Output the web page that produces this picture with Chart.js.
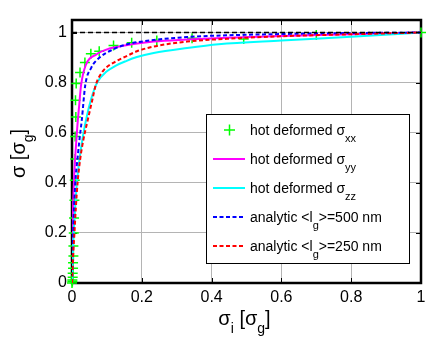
<!DOCTYPE html>
<html>
<head>
<meta charset="utf-8">
<script src="https://cdn.jsdelivr.net/npm/chart.js@4"></script>
<style>
  html, body { margin: 0; padding: 0; background: #fff; }
  #wrap { width: 435px; height: 348px; }
</style>
</head>
<body>
<div id="wrap"><canvas id="chart" width="435" height="348"></canvas></div>
<script>
// hot deformed sigma_xx (markers)
const xxX = [0, 0.001, 0.001, 0.002, 0.002, 0.003, 0.003, 0.004, 0.004, 0.005, 0.006, 0.007, 0.008, 0.009, 0.009, 0.011, 0.010, 0.012, 0.023, 0.037, 0.054, 0.078, 0.119, 0.171, 0.243, 0.344, 0.492, 0.70, 1];
const xxY = [0, 0.006, 0.012, 0.023, 0.039, 0.059, 0.081, 0.108, 0.148, 0.20, 0.26, 0.33, 0.41, 0.495, 0.585, 0.663, 0.73, 0.796, 0.84, 0.88, 0.915, 0.925, 0.948, 0.959, 0.968, 0.977, 0.974, 0.99, 1];
// hot deformed sigma_yy
const yyX = [0, 0.001, 0.003, 0.006, 0.010, 0.015, 0.020, 0.026, 0.040, 0.069, 0.107, 0.155, 0.234, 0.33, 0.444, 0.6, 0.8, 1];
const yyY = [0, 0.15, 0.3, 0.42, 0.52, 0.62, 0.70, 0.79, 0.872, 0.912, 0.936, 0.949, 0.964, 0.972, 0.979, 0.986, 0.993, 1];
// hot deformed sigma_zz
const zzX = [0, 0.002, 0.005, 0.009, 0.014, 0.021, 0.030, 0.040, 0.055, 0.072, 0.10, 0.126, 0.155, 0.186, 0.234, 0.33, 0.42, 0.6, 0.8, 1];
const zzY = [0, 0.1, 0.2, 0.3, 0.4, 0.49, 0.575, 0.65, 0.735, 0.80, 0.845, 0.868, 0.886, 0.902, 0.918, 0.938, 0.953, 0.968, 0.983, 1];
// analytic <lg>=500 nm
const a500X = [0, 0.002, 0.004, 0.007, 0.011, 0.016, 0.022, 0.028, 0.038, 0.055, 0.078, 0.117, 0.155, 0.234, 0.33, 0.444, 0.6, 0.8, 1];
const a500Y = [0, 0.12, 0.24, 0.34, 0.43, 0.5, 0.58, 0.65, 0.79, 0.859, 0.899, 0.932, 0.952, 0.970, 0.982, 0.989, 0.994, 0.998, 1];
// analytic <lg>=250 nm
const a250X = [0, 0.003, 0.007, 0.011, 0.016, 0.023, 0.033, 0.045, 0.058, 0.068, 0.088, 0.126, 0.155, 0.186, 0.234, 0.33, 0.444, 0.6, 0.8, 1];
const a250Y = [0, 0.1, 0.2, 0.3, 0.4, 0.49, 0.575, 0.65, 0.73, 0.79, 0.845, 0.885, 0.905, 0.925, 0.944, 0.964, 0.975, 0.985, 0.993, 1];
// reference line sigma = 1
const refX = [0, 1];
const refY = [1, 1];

const xTicks = [0, 0.2, 0.4, 0.6, 0.8, 1];
const yTicks = [0, 0.2, 0.4, 0.6, 0.8, 1];

const legendItems = [
  { parts: [['hot deformed σ', 0], ['xx', 1]], color: '#00ff00', kind: 'marker' },
  { parts: [['hot deformed σ', 0], ['yy', 1]], color: '#ff00ff', kind: 'line' },
  { parts: [['hot deformed σ', 0], ['zz', 1]], color: '#00ffff', kind: 'line' },
  { parts: [['analytic <l', 0], ['g', 1], ['>=500 nm', 0]], color: '#0000ff', kind: 'dash' },
  { parts: [['analytic <l', 0], ['g', 1], ['>=250 nm', 0]], color: '#ff0000', kind: 'dash' }
];

const FONT = '"Liberation Sans", Arial, Helvetica, sans-serif';
const pts = (xs, ys) => xs.map((x, i) => ({ x: x, y: ys[i] }));

// draw text made of normal and subscript parts
function drawParts(ctx, parts, x, y, size, subSize, subDy, center) {
  const widths = parts.map(p => {
    ctx.font = (p[1] ? subSize : size) + 'px ' + FONT;
    return ctx.measureText(p[0]).width;
  });
  let cx = center ? x - widths.reduce((a, b) => a + b, 0) / 2 : x;
  parts.forEach((p, i) => {
    ctx.font = (p[1] ? subSize : size) + 'px ' + FONT;
    ctx.fillText(p[0], cx, p[1] ? y + subDy : y);
    cx += widths[i];
  });
}

const matlabAxes = {
  id: 'matlabAxes',
  beforeDatasetsDraw(chart) {
    const { ctx, chartArea: a, scales: { x, y } } = chart;
    ctx.save();
    ctx.strokeStyle = '#000';
    ctx.lineWidth = 1;
    ctx.beginPath();
    xTicks.forEach(v => {
      const px = Math.round(x.getPixelForValue(v)) + 0.5;
      ctx.moveTo(px, a.bottom); ctx.lineTo(px, a.bottom - 5);
      ctx.moveTo(px, a.top); ctx.lineTo(px, a.top + 5);
    });
    yTicks.forEach(v => {
      const py = Math.round(y.getPixelForValue(v)) + 0.5;
      ctx.moveTo(a.left, py); ctx.lineTo(a.left + 5, py);
      ctx.moveTo(a.right, py); ctx.lineTo(a.right - 5, py);
    });
    ctx.stroke();
    ctx.lineWidth = 2.5;
    ctx.strokeRect(a.left, a.top, a.right - a.left, a.bottom - a.top);
    ctx.restore();
  },
  afterDatasetsDraw(chart) {
    const ctx = chart.ctx;
    ctx.save();
    // legend box
    ctx.fillStyle = '#fff';
    ctx.fillRect(206, 114, 203, 149);
    ctx.strokeStyle = '#000';
    ctx.lineWidth = 1;
    ctx.strokeRect(206.5, 114.5, 203, 149);
    legendItems.forEach((it, i) => {
      const cy = 130 + i * 29;
      ctx.strokeStyle = it.color;
      ctx.lineWidth = it.kind === 'marker' ? 1.5 : 2;
      ctx.beginPath();
      if (it.kind === 'marker') {
        ctx.moveTo(224, cy); ctx.lineTo(235, cy);
        ctx.moveTo(229.5, cy - 5.5); ctx.lineTo(229.5, cy + 5.5);
      } else {
        ctx.setLineDash(it.kind === 'dash' ? [4, 2.5] : []);
        ctx.moveTo(213, cy); ctx.lineTo(245, cy);
      }
      ctx.stroke();
      ctx.setLineDash([]);
      ctx.fillStyle = '#000';
      ctx.textBaseline = 'alphabetic';
      ctx.textAlign = 'left';
      drawParts(ctx, it.parts, 250, cy + 5, 14, 11, 7, false);
    });
    ctx.restore();
  },
  afterDraw(chart) {
    const { ctx, chartArea: a } = chart;
    ctx.save();
    ctx.fillStyle = '#000';
    ctx.textAlign = 'left';
    ctx.textBaseline = 'alphabetic';
    // x axis title
    drawParts(ctx, [['σ', 0], ['i', 1], [' [σ', 0], ['g', 1], [']', 0]],
      (a.left + a.right) / 2 - 2, 325, 20, 14, 8, true);
    // y axis title
    ctx.translate(25, (a.top + a.bottom) / 2 + 2);
    ctx.rotate(-Math.PI / 2);
    drawParts(ctx, [['σ [σ', 0], ['g', 1], [']', 0]], 0, 0, 20, 14, 8, true);
    ctx.restore();
  }
};

const ctx = document.getElementById('chart').getContext('2d');
const chart = new Chart(ctx, {
  type: 'scatter',
  data: {
    datasets: [
      {
        label: 'hot deformed σxx',
        data: pts(xxX, xxY),
        showLine: false,
        pointStyle: 'cross',
        pointRadius: 5,
        pointBorderWidth: 1.5,
        borderColor: '#00ff00',
        backgroundColor: '#00ff00',
        clip: false,
        order: 6
      },
      {
        label: 'hot deformed σyy',
        data: pts(yyX, yyY),
        showLine: true,
        borderColor: '#ff00ff',
        borderWidth: 2,
        pointRadius: 0,
        cubicInterpolationMode: 'monotone',
        order: 5
      },
      {
        label: 'hot deformed σzz',
        data: pts(zzX, zzY),
        showLine: true,
        borderColor: '#00ffff',
        borderWidth: 2,
        pointRadius: 0,
        cubicInterpolationMode: 'monotone',
        order: 4
      },
      {
        label: 'analytic <lg>=500 nm',
        data: pts(a500X, a500Y),
        showLine: true,
        borderColor: '#0000ff',
        borderWidth: 2,
        borderDash: [4, 2.5],
        pointRadius: 0,
        cubicInterpolationMode: 'monotone',
        order: 3
      },
      {
        label: 'analytic <lg>=250 nm',
        data: pts(a250X, a250Y),
        showLine: true,
        borderColor: '#ff0000',
        borderWidth: 2,
        borderDash: [4, 2.5],
        pointRadius: 0,
        cubicInterpolationMode: 'monotone',
        order: 2
      },
      {
        label: 'reference',
        data: pts(refX, refY),
        showLine: true,
        borderColor: '#000',
        borderWidth: 1.5,
        borderDash: [5, 3],
        pointRadius: 0,
        order: 1
      }
    ]
  },
  options: {
    responsive: false,
    animation: false,
    events: [],
    layout: { padding: { top: 20, right: 14, left: 0, bottom: 0 } },
    plugins: {
      legend: { display: false },
      tooltip: { enabled: false }
    },
    scales: {
      x: {
        type: 'linear',
        min: 0,
        max: 1,
        afterBuildTicks: s => { s.ticks = xTicks.map(v => ({ value: v })); },
        afterFit: s => { s.height = 65; },
        grid: { color: '#b4b4b4', lineWidth: 1, drawTicks: false },
        border: { display: false },
        ticks: {
          padding: 5,
          color: '#000',
          font: { family: FONT, size: 16 },
          maxRotation: 0,
          callback: v => String(+v.toFixed(1))
        }
      },
      y: {
        type: 'linear',
        min: 0,
        max: 1.05,
        afterBuildTicks: s => { s.ticks = yTicks.map(v => ({ value: v })); },
        afterFit: s => { s.width = 72; },
        grid: { color: '#b4b4b4', lineWidth: 1, drawTicks: false },
        border: { display: false },
        ticks: {
          padding: 5,
          color: '#000',
          font: { family: FONT, size: 16 },
          callback: v => String(+v.toFixed(1))
        }
      }
    }
  },
  plugins: [matlabAxes]
});
</script>
</body>
</html>
